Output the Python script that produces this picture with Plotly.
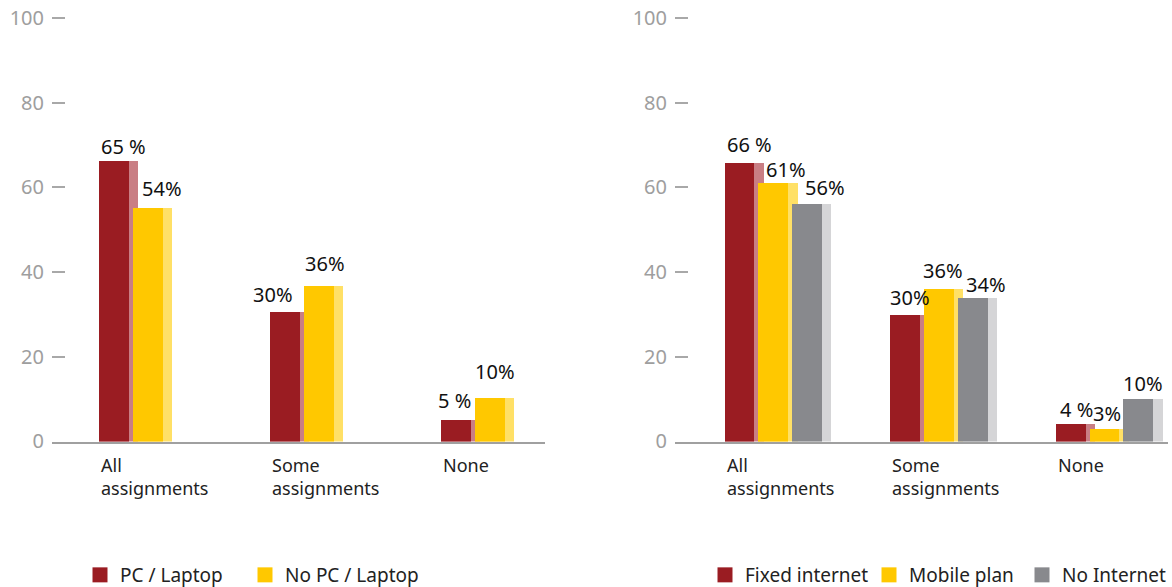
import plotly.graph_objects as go

# ---------------- data ----------------
categories = ["All assignments", "Some assignments", "None"]
category_labels = ["All<br>assignments", "Some<br>assignments", "None"]

left_series = ["PC / Laptop", "No PC / Laptop"]
left_values = [[66.2, 30.6, 5.2], [55.1, 36.8, 10.3]]
left_text = [["65 %", "30%", "5 %"], ["54%", "36%", "10%"]]

right_series = ["Fixed internet", "Mobile plan", "No Internet"]
right_values = [[65.9, 30.0, 4.3], [61.0, 36.1, 3.1], [56.1, 34.0, 10.0]]
right_text = [["66 %", "30%", "4 %"], ["61%", "36%", "3%"], ["56%", "34%", "10%"]]

y_ticks = [0, 20, 40, 60, 80, 100]

# ---------------- styles ----------------
FONT = "Noto Sans"
W, H = 1172, 587
dark_colors = ["#9A1C22", "#FFC800", "#88898D"]
light_colors = ["#C97E84", "#FFE066", "#D5D5D7"]

# label nudges (px) relative to bar centre / bar top
left_dx = [[5, -16, -6], [10, 2, 1]]
left_dy = [[15, 17, 19], [20, 22, 26]]
right_dx = [[5, 0, 1], [8, -1, -2], [13, 9, 0]]
right_dy = [[18, 17, 14], [14, 18, 15], [16, 13, 16]]

# legend item anchor x (px) per series
left_leg_x = [80, 245]
right_leg_x = [705, 869, 1022]

# subplot geometry (px)
panels = [
    dict(x0=52, x1=545, rng=[-0.489, 2.394], step=0.200, start=-0.216,
         bw=0.228, dw=0.175, xa="x", ya="y",
         series=left_series, values=left_values, text=left_text,
         dx=left_dx, dy=left_dy, legends=["legend", "legend2"],
         legx=left_leg_x),
    dict(x0=675, x1=1168, rng=[-0.625, 2.353], step=0.205, start=-0.326,
         bw=0.236, dw=0.181, xa="x2", ya="y2",
         series=right_series, values=right_values, text=right_text,
         dx=right_dx, dy=right_dy, legends=["legend3", "legend4", "legend5"],
         legx=right_leg_x),
]

y_bottom, y_top = 441.5, 18          # pixel rows of 0 and 100
ymax = 101.0
px_per_unit = (y_bottom - y_top) / 100.0
y_top_ext = y_bottom - ymax * px_per_unit

fig = go.Figure()
annotations = []
legend_layout = {}

for p in panels:
    for k, name in enumerate(p["series"]):
        off = p["start"] + k * p["step"]
        fig.add_trace(go.Bar(
            x=categories, y=p["values"][k], width=p["bw"], offset=off,
            marker=dict(color=light_colors[k], line=dict(width=0)),
            xaxis=p["xa"], yaxis=p["ya"], showlegend=False, hoverinfo="skip"))
        fig.add_trace(go.Bar(
            x=categories, y=p["values"][k], width=p["dw"], offset=off,
            marker=dict(color=dark_colors[k], line=dict(width=0)),
            xaxis=p["xa"], yaxis=p["ya"], showlegend=False, hoverinfo="skip"))
        # legend entry
        lg = p["legends"][k]
        fig.add_trace(go.Scatter(
            x=[None], y=[None], mode="markers", name=name,
            marker=dict(symbol="square", size=15, color=dark_colors[k]),
            xaxis=p["xa"], yaxis=p["ya"], legend=lg, showlegend=True))
        legend_layout[lg] = dict(
            orientation="h", x=p["legx"][k] / W, y=(H - 575) / H,
            xanchor="left", yanchor="middle",
            font=dict(family=FONT, size=19, color="#222222"),
            bgcolor="rgba(0,0,0,0)")
        for i, v in enumerate(p["values"][k]):
            annotations.append(dict(
                x=i + off + p["bw"] / 2, y=v, xref=p["xa"], yref=p["ya"],
                text=p["text"][k][i], showarrow=False,
                xanchor="center", yanchor="middle",
                xshift=p["dx"][k][i], yshift=p["dy"][k][i],
                font=dict(family=FONT, size=20, color="#111111")))
    for i, lab in enumerate(category_labels):
        annotations.append(dict(
            x=i + p["start"], y=0, xref=p["xa"], yref=p["ya"],
            text=lab, showarrow=False, align="left",
            xanchor="left", yanchor="top", yshift=-10,
            font=dict(family=FONT, size=18, color="#222222")))

ydom = [(H - y_bottom) / H, (H - y_top_ext) / H]

axis_y = dict(range=[0, ymax], tickvals=y_ticks, ticks="inside", ticklen=13,
              tickwidth=1.5, tickcolor="#A8A8A8", showline=False,
              showgrid=False, zeroline=False, domain=ydom,
              tickfont=dict(family=FONT, size=20, color="#9E9E9E"),
              ticklabelstandoff=7)

fig.update_layout(
    width=W, height=H,
    margin=dict(l=0, r=0, t=0, b=0, autoexpand=False),
    paper_bgcolor="white", plot_bgcolor="white",
    barmode="overlay", bargap=0,
    annotations=annotations,
    xaxis=dict(domain=[panels[0]["x0"] / W, panels[0]["x1"] / W],
               range=panels[0]["rng"], showticklabels=False, ticks="",
               showline=True, linecolor="#A0A0A0", linewidth=2,
               showgrid=False, zeroline=False, anchor="y"),
    xaxis2=dict(domain=[panels[1]["x0"] / W, panels[1]["x1"] / W],
                range=panels[1]["rng"], showticklabels=False, ticks="",
                showline=True, linecolor="#A0A0A0", linewidth=2,
                showgrid=False, zeroline=False, anchor="y2"),
    yaxis=dict(axis_y, anchor="x"),
    yaxis2=dict(axis_y, anchor="x2"),
    **legend_layout,
)

fig.write_html("out.html",
               config={"displayModeBar": False},
               post_script="document.body.style.margin='0';")
